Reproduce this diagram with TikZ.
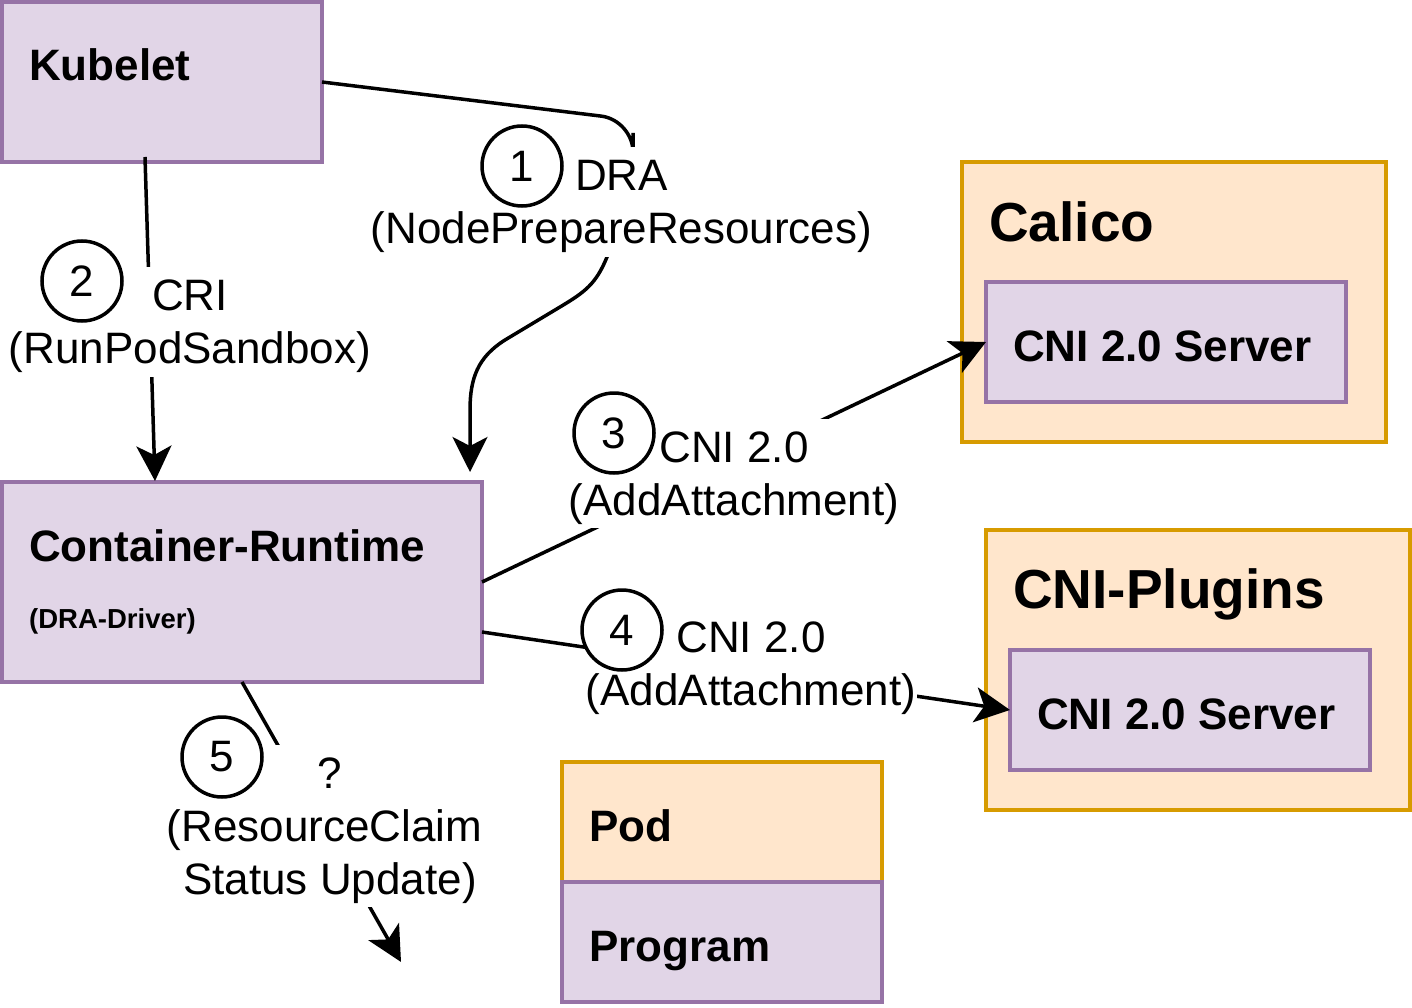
\documentclass[tikz,border=0pt]{standalone}
\usepackage{fontspec}
\setmainfont{Liberation Sans}
\usetikzlibrary{arrows.meta,calc}
\definecolor{purpleF}{HTML}{E1D5E7}
\definecolor{purpleS}{HTML}{9673A6}
\definecolor{orangeF}{HTML}{FFE6CC}
\definecolor{orangeS}{HTML}{D79B00}
\newcommand\lstr{\rule[-11.2pt]{0pt}{52.8pt}}
\begin{document}
\begin{tikzpicture}[x=1pt,y=-1pt,
  pbox/.style={rectangle, draw=purpleS, fill=purpleF, line width=3.8pt, inner sep=0pt, outer sep=0pt},
  obox/.style={rectangle, draw=orangeS, fill=orangeF, line width=3.8pt, inner sep=0pt, outer sep=0pt},
  boxtitle/.style={anchor=base west, inner sep=0pt, font=\fontsize{44}{52.8}\selectfont\bfseries},
  bigtitle/.style={anchor=base west, inner sep=0pt, font=\fontsize{55}{66}\selectfont\bfseries},
  smalltitle/.style={anchor=base west, inner sep=0pt, font=\fontsize{27.5}{33}\selectfont\bfseries},
  conn/.style={line width=3.5pt, -{Stealth[length=35pt,width=35pt,inset=9pt]}},
  lbl/.style={fill=white, inner xsep=1pt, inner ysep=2pt, align=center, font=\fontsize{44}{52.8}\selectfont},
  num/.style={circle, draw, line width=3.5pt, fill=white, minimum size=80pt, inner sep=0pt, font=\fontsize{44}{52.8}\selectfont}
]
\useasboundingbox (0,0) rectangle (1412,1008);

% boxes
\node[pbox, minimum width=320pt, minimum height=160pt] (kubelet) at (162,82) {};
\node[pbox, minimum width=480pt, minimum height=200pt] (cr) at (242,582) {};
\node[obox, minimum width=424pt, minimum height=280pt] (calico) at (1174,302) {};
\node[pbox, minimum width=360pt, minimum height=120pt] (calsrv) at (1166,342) {};
\node[obox, minimum width=424pt, minimum height=280pt] (plugins) at (1198,670) {};
\node[pbox, minimum width=360pt, minimum height=120pt] (plgsrv) at (1190,710) {};
\node[obox, minimum width=320pt, minimum height=120pt] (pod) at (722,822) {};
\node[pbox, minimum width=320pt, minimum height=120pt] (program) at (722,942) {};

% titles
\node[boxtitle] (kubeletT) at (29,81) {Kubelet};
\node[boxtitle] (crT) at (29,561) {Container-Runtime};
\node[smalltitle] (crS) at (29,628) {(DRA-Driver)};
\node[bigtitle] (calicoT) at (989,241) {Calico};
\node[bigtitle] (pluginsT) at (1013,608) {CNI-Plugins};
\node[boxtitle] (calsrvT) at (1013,361) {CNI 2.0 Server};
\node[boxtitle] (plgsrvT) at (1037,729) {CNI 2.0 Server};
\node[boxtitle] (podT) at (589,841) {Pod};
\node[boxtitle] (programT) at (589,961) {Program};

% connectors
\draw[conn] (kubelet.east) [rounded corners=32pt] -- (633,120) -- (633,165) [sharp corners]
  .. controls (633,215) and (612,240) .. (607,257)
  .. controls (596,284) and (585,292) .. (560,307) -- (505,340)
  .. controls (478,357) and (470,378) .. (470,410) -- ($(cr.north west)+(468,-10)$);
\draw[conn] ($(kubelet.south)+(-17,-5)$) -- ($(cr.north west)+(153,-1)$);
\draw[conn] (cr.east) -- (calsrv.west);
\draw[conn] ($(cr.east)+(0,50)$) -- (plgsrv.west);
\coordinate (free5) at (401,962);
\draw[conn] (cr.south) -- (free5);

% labels
\node[lbl] (l1) at (621.5,202) {\lstr DRA\\\lstr(NodePrepareResources)};
\node[lbl] (l2) at (190,322) {\lstr CRI\\\lstr(RunPodSandbox)};
\node[lbl] (l3) at (734,473.5) {\lstr CNI 2.0\\\lstr(AddAttachment)};
\node[lbl] (l4) at (751,664) {\lstr CNI 2.0\\\lstr(AddAttachment)};
\node[lbl] (l5) at (330,826) {\lstr ?\\\lstr(ResourceClaim\rule{11pt}{0pt}\\\lstr Status Update)};

% step numbers
\node[num] (c1) at (522,166) {1};
\node[num] (c2) at (82,281) {2};
\node[num] (c3) at (614,433) {3};
\node[num] (c4) at (622,630) {4};
\node[num] (c5) at (222,757) {5};
\end{tikzpicture}
\end{document}
